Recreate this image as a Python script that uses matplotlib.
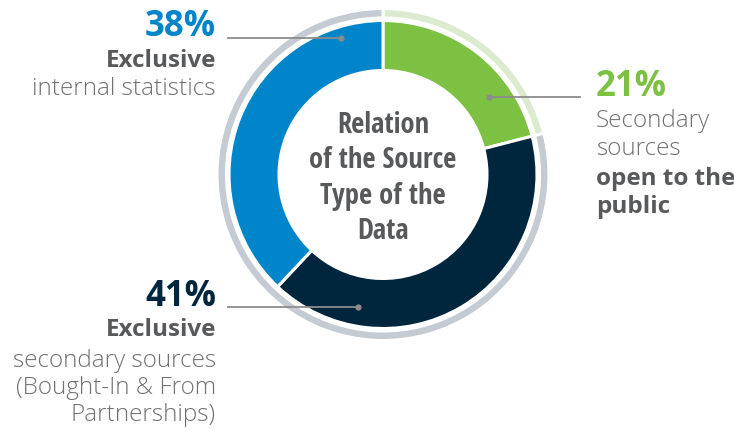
import numpy as np
import matplotlib
matplotlib.use("Agg")
import matplotlib.pyplot as plt
from matplotlib import font_manager

# datos del grafico
shares = [21, 41, 38]  # green, navy, blue (clockwise from top)
seg_colors = ["#7DC142", "#00263E", "#0085CA"]
outer_shares = [21, 79]
outer_colors = ["#DCEBCF", "#C5CBD2"]
center_title = "Relation\nof the Source\nType of the\nData"
label_bold = ["", "Exclusive", "Exclusive"]
label_light = ["Secondary\nsources", "secondary sources\n(Bought-In & From\nPartnerships)", "internal statistics"]
label_bold_after = ["open to the\npublic", "", ""]

W, H = 734, 430
names = {f.name for f in font_manager.fontManager.ttflist}
if "Open Sans Condensed" in names:
    cond, stretch = "Open Sans Condensed", "normal"
else:
    cond, stretch = "DejaVu Sans", "condensed"

fig = plt.figure(figsize=(W / 100, H / 100), dpi=100)
ax = fig.add_axes([0, 0, 1, 1])

def Y(y):  # pixel desde arriba -> coordenada de datos
    return H - y

cx, cy = 383, Y(174.5)
ax.pie(outer_shares, colors=outer_colors, startangle=90, counterclock=False,
       radius=166, center=(cx, cy),
       wedgeprops=dict(width=9.5, edgecolor="white", linewidth=2.2))
ax.pie(shares, colors=seg_colors, startangle=90, counterclock=False,
       radius=154, center=(cx, cy),
       wedgeprops=dict(width=50, edgecolor="white", linewidth=2.2))
ax.set_xlim(0, W)
ax.set_ylim(0, H)
ax.set_aspect("equal")
ax.axis("off")

ax.text(cx, Y(178.5), center_title, ha="center", va="center", fontsize=20.5,
        fontweight="bold", family=cond, fontstretch=stretch, color="#58595B",
        linespacing=1.29)

grey_bold = "#58595B"
grey_light = "#717171"
fam = "Open Sans"
pct_size = 25
body_size = 17.5

# 21% (derecha)
ax.text(596, Y(87), f"{shares[0]}%", ha="left", va="center", fontsize=pct_size,
        fontweight="bold", family=fam, color=seg_colors[0])
ax.text(596, Y(135), label_light[0], ha="left", va="center", fontsize=body_size,
        fontweight="light", family=fam, color=grey_light, linespacing=1.17)
ax.text(596, Y(193), label_bold_after[0], ha="left", va="center", fontsize=body_size,
        fontweight="bold", family=fam, color=grey_bold, linespacing=1.17)
ax.plot([489, 580], [Y(96.5), Y(96.5)], color="#8C8C8C", lw=1.3)
ax.plot(489, Y(96.5), "o", color="#8C8C8C", ms=3.5)

# 38% (arriba izquierda)
ax.text(216, Y(27), f"{shares[2]}%", ha="right", va="center", fontsize=pct_size,
        fontweight="bold", family=fam, color=seg_colors[2])
ax.text(216, Y(61), label_bold[2], ha="right", va="center", fontsize=body_size,
        fontweight="bold", family=fam, color=grey_bold)
ax.text(216, Y(89), label_light[2], ha="right", va="center", fontsize=body_size,
        fontweight="light", family=fam, color=grey_light)
ax.plot([228, 341], [Y(37.5), Y(37.5)], color="#8C8C8C", lw=1.3)
ax.plot(341, Y(37.5), "o", color="#8C8C8C", ms=3.5)

# 41% (abajo izquierda)
ax.text(216, Y(297), f"{shares[1]}%", ha="right", va="center", fontsize=pct_size,
        fontweight="bold", family=fam, color=seg_colors[1])
ax.text(216, Y(330), label_bold[1], ha="right", va="center", fontsize=body_size,
        fontweight="bold", family=fam, color=grey_bold)
ax.text(216, Y(388), label_light[1], ha="right", va="center", fontsize=body_size,
        fontweight="light", family=fam, color=grey_light, linespacing=1.17)
ax.plot([228, 358], [Y(306.5), Y(306.5)], color="#8C8C8C", lw=1.3)
ax.plot(358, Y(306.5), "o", color="#8C8C8C", ms=3.5)

fig.savefig("out.png", dpi=100, facecolor="white")
